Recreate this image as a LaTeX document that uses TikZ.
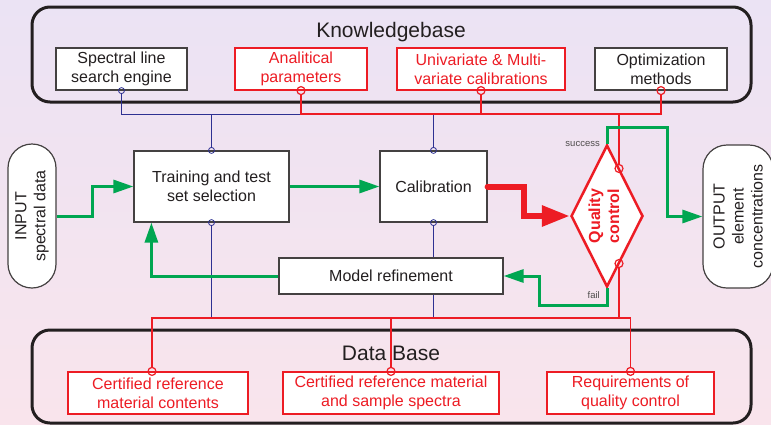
\documentclass[tikz,border=0pt]{standalone}
\usepackage{fontspec}
\setmainfont{Liberation Sans}
\usetikzlibrary{arrows.meta,positioning,shapes.geometric}
\definecolor{qred}{RGB}{237,28,36}
\definecolor{qgreen}{RGB}{0,166,81}
\definecolor{qblue}{RGB}{46,49,146}
\definecolor{qtext}{RGB}{35,31,32}
\definecolor{bgtop}{RGB}{235,227,244}
\definecolor{bgbot}{RGB}{249,228,236}

\begin{document}
\begin{tikzpicture}[
    x=1pt, y=-1pt,
    font=\fontsize{16}{19}\selectfont,
    box/.style={
        draw=qtext!85,
        fill=white,
        line width=1.2pt,
        inner sep=0pt,
        align=center,
        text=qtext
    },
    redbox/.style={
        box,
        draw=qred,
        text=qred
    },
    pill/.style={
        box,
        rounded corners=24pt,
        rotate=90
    },
    frame/.style={
        draw=qtext,
        line width=3pt,
        rounded corners=18pt,
        inner sep=0pt
    },
    title/.style={font=\fontsize{21}{25}\selectfont, text=qtext, anchor=base},
    bdot/.style={circle, draw=qblue, line width=0.8pt, inner sep=0pt, minimum size=6pt},
    rdot/.style={circle, draw=qred, line width=1.2pt, inner sep=0pt, minimum size=8pt},
    bline/.style={draw=qblue, line width=0.8pt},
    rline/.style={draw=qred, line width=1.2pt},
    arrow/.style={-{Triangle[length=20pt,width=13pt]}, line width=3pt, qgreen},
    bigarrow/.style={-{Triangle[length=28pt,width=20pt]}, line width=6pt, qred, line cap=round},
    mylabel/.style={font=\fontsize{9.5}{11}\selectfont, text=qtext!80, inner sep=1pt},
    ]

    \useasboundingbox (0,0) rectangle (771,424);
    \shade[top color=bgtop, bottom color=bgbot] (0,0) rectangle (771,424);

    % Knowledgebase
    \node[frame, minimum width=719pt, minimum height=95pt] (kb) at (391.5,54.5) {};
    \node[title] (kbTitle) at (391,37.3) {Knowledgebase};
    \node[box, minimum width=131pt, minimum height=42pt] (srch) at (121.5,69) {Spectral line\\search engine};
    \node[redbox, minimum width=132pt, minimum height=42pt] (anapar) at (301,69) {Analitical\\parameters};
    \node[redbox, minimum width=168pt, minimum height=42pt] (unimulti) at (481,69) {Univariate \& Multi-\\variate calibrations};
    \node[box, minimum width=132pt, minimum height=42pt] (optim) at (661,69) {Optimization\\methods};

    % Data Base
    \node[frame, minimum width=719pt, minimum height=93pt] (db) at (391.5,376.5) {};
    \node[title] (dbTitle) at (391,360) {Data Base};
    \node[redbox, minimum width=180pt, minimum height=42pt] (crm) at (158,393) {Certified reference\\material contents};
    \node[redbox, minimum width=216pt, minimum height=42pt] (crs) at (391,393) {Certified reference material\\and sample spectra};
    \node[redbox, minimum width=167pt, minimum height=42pt] (reqqc) at (630.5,393) {Requirements of\\quality control};

    % process
    \node[pill, minimum width=144pt, minimum height=48pt] (inp) at (32,216) {INPUT\\spectral data};
    \node[box, minimum width=155pt, minimum height=71pt] (train) at (211.5,186.5) {Training and test\\set selection};
    \node[box, minimum width=107pt, minimum height=71pt] (calib) at (433.5,186.5) {Calibration};
    \node[box, minimum width=224pt, minimum height=36pt] (refine) at (391,276) {Model refinement};
    \node[diamond, draw=qred, line width=2.5pt, fill=white, inner sep=0pt, aspect=0.5,
          minimum width=72pt, minimum height=142pt] (qc) at (607,216) {};
    \node[rotate=90, align=center, text=qred, font=\fontsize{16}{19}\selectfont\bfseries] (qcText) at (604,216) {Quality\\control};
    \node[pill, minimum width=143pt, minimum height=70pt] (out) at (738,216.5) {OUTPUT\\element\\concentrations};

    % connector dots
    \node[bdot] (srchDot) at (srch.south) {};
    \node[rdot] (anaDot) at (anapar.south) {};
    \node[rdot] (uniDot) at (unimulti.south) {};
    \node[rdot] (optDot) at (optim.south) {};
    \node[bdot] (trainDotN) at (train.north) {};
    \node[bdot] (trainDotS) at (train.south) {};
    \node[bdot] (calibDotN) at (calib.north) {};
    \node[bdot] (calibDotS) at (calib.south) {};
    \node[rdot] (qcDotA) at (619,168.5) {};
    \node[rdot] (qcDotB) at (619,263.5) {};
    \node[rdot] (crmDot) at ([xshift=-6pt]crm.north) {};
    \node[rdot] (crsDot) at (crs.north) {};
    \node[rdot] (reqDot) at (reqqc.north) {};

    \coordinate (kbBus) at (0,114);
    \coordinate (dbBus) at (0,318);

    % knowledge links
    \draw[bline] (srchDot) |- (calibDotN |- kbBus) -- (calibDotN);
    \draw[bline] (trainDotN) -- (trainDotN |- kbBus);
    \draw[rline] (anaDot) |- (optDot |- kbBus) -- (optDot);
    \draw[rline] (uniDot) -- (uniDot |- kbBus);
    \draw[rline] (qcDotA) -- (qcDotA |- kbBus);

    % data links
    \draw[bline] (trainDotS) -- (trainDotS |- dbBus);
    \draw[bline] (calibDotS) -- (calibDotS |- refine.north);
    \draw[bline] (calibDotS |- refine.south) -- (calibDotS |- dbBus);
    \draw[rline] (crmDot) |- (reqDot |- dbBus) -- (reqDot);
    \draw[rline] (crsDot) -- (crsDot |- dbBus);
    \draw[rline] (qcDotB) -- (qcDotB |- dbBus);

    % flow
    \draw[arrow] (inp.south) -- ++(36,0) |- (train.west);
    \draw[arrow] (train.east) -- (calib.west);
    \draw[bigarrow] (calib.east) -- ++(36,0) |- (qc.west);
    \coordinate (succTurn) at (667,127);
    \draw[arrow] (qc.north) |- (succTurn) -- (succTurn |- out.north) -- (out.north);
    \coordinate (failTurn) at (539,305);
    \draw[arrow] (qc.south) |- (failTurn) -- (failTurn |- refine.east) -- (refine.east);
    \draw[arrow] (refine.west) -| ([xshift=18pt]train.south west);

    \node[mylabel, left=6pt of qc.north] (succ) {success};
    \node[mylabel, below left=2pt and 6pt of qc.south] (fail) {fail};
\end{tikzpicture}
\end{document}
